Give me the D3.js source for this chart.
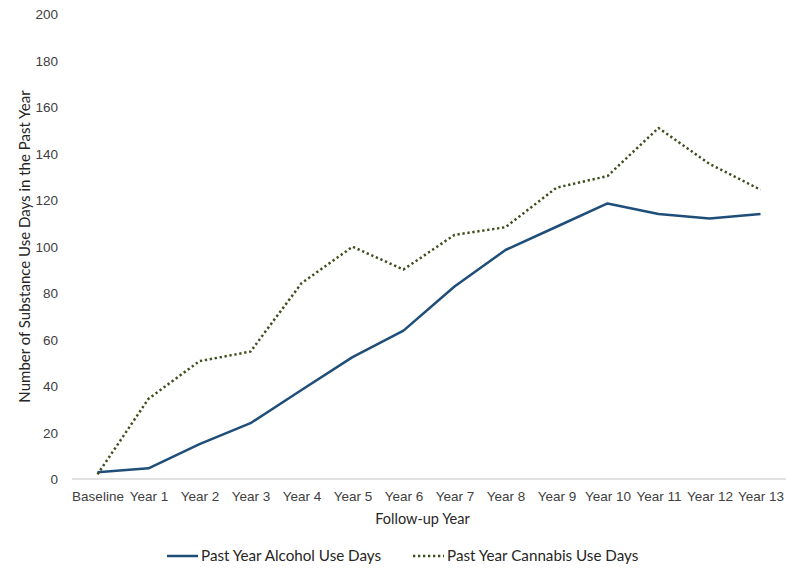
<!DOCTYPE html>
<html>
<head>
<meta charset="utf-8">
<script src="https://cdn.jsdelivr.net/npm/d3@7"></script>
<style>
  html, body { margin: 0; padding: 0; background: #fff; }
  svg { display: block; font-family: Lato, "Open Sans", sans-serif; }
  .tick text { fill: #404040; font-size: 13.5px; }
</style>
</head>
<body>
<svg id="chart" width="800" height="579"></svg>
<script>
  /* ── data ── */
  const years = ["Baseline", "Year 1", "Year 2", "Year 3", "Year 4", "Year 5", "Year 6",
                 "Year 7", "Year 8", "Year 9", "Year 10", "Year 11", "Year 12", "Year 13"];
  const alcohol  = [2.9, 4.6, 15, 24, 38.3, 52.4, 63.8, 82.8, 98.5, 108.5, 118.5, 114, 112, 114];
  const cannabis = [2, 34.5, 50.7, 54.8, 84.2, 99.9, 90.1, 105, 108.3, 125.3, 130.3, 151, 135.5, 124.4];
  const yTicks   = [0, 20, 40, 60, 80, 100, 120, 140, 160, 180, 200];

  const series = [
    { name: "Past Year Alcohol Use Days",  values: alcohol,  color: "#1f4e79", width: 2.5, dash: null },
    { name: "Past Year Cannabis Use Days", values: cannabis, color: "#3f4f1c", width: 2.5, dash: "2.3,2.7" }
  ];

  /* ── layout ── */
  const M = { left: 72, right: 786, top: 14, bottom: 479 };
  const svg = d3.select("#chart");

  const x = d3.scalePoint().domain(years).range([M.left, M.right]).padding(0.5);
  const y = d3.scaleLinear().domain([0, 200]).range([M.bottom, M.top]);

  /* y axis: labels only */
  const gy = svg.append("g").attr("transform", `translate(${M.left - 14},0)`)
    .call(d3.axisLeft(y).tickValues(yTicks).tickSize(0).tickPadding(0));
  gy.select(".domain").remove();
  gy.selectAll(".tick text").attr("dy", "0.35em");

  /* x axis */
  const gx = svg.append("g").attr("transform", `translate(0,${M.bottom})`)
    .call(d3.axisBottom(x).tickSize(0).tickPadding(12));
  gx.select(".domain").attr("stroke", "#d9d9d9").attr("stroke-width", 1.3)
    .attr("d", `M${M.left},0H${M.right}`);

  /* axis titles */
  svg.append("text").attr("x", x("Year 6") + 19).attr("y", 524)
    .attr("text-anchor", "middle").attr("font-size", 14.5).attr("fill", "#262626")
    .text("Follow-up Year");
  svg.append("text").attr("transform", `translate(30,${(M.top + M.bottom) / 2}) rotate(-90)`)
    .attr("text-anchor", "middle").attr("font-size", 15).attr("fill", "#262626")
    .text("Number of Substance Use Days in the Past Year");

  /* lines */
  const line = d3.line().x((d, i) => x(years[i])).y(d => y(d));
  series.forEach(s => {
    svg.append("path").datum(s.values)
      .attr("fill", "none").attr("stroke", s.color).attr("stroke-width", s.width)
      .attr("stroke-dasharray", s.dash).attr("stroke-linejoin", "round")
      .attr("d", line);
  });

  /* legend */
  const legX = [167, 413];
  series.forEach((s, i) => {
    const g = svg.append("g").attr("transform", `translate(${legX[i]},556)`);
    g.append("line").attr("x1", 0).attr("x2", 31).attr("y1", 0).attr("y2", 0)
      .attr("stroke", s.color).attr("stroke-width", s.width).attr("stroke-dasharray", s.dash);
    g.append("text").attr("x", 34).attr("dy", "0.35em").attr("font-size", 15.2)
      .attr("fill", "#262626").text(s.name);
  });
</script>
</body>
</html>
